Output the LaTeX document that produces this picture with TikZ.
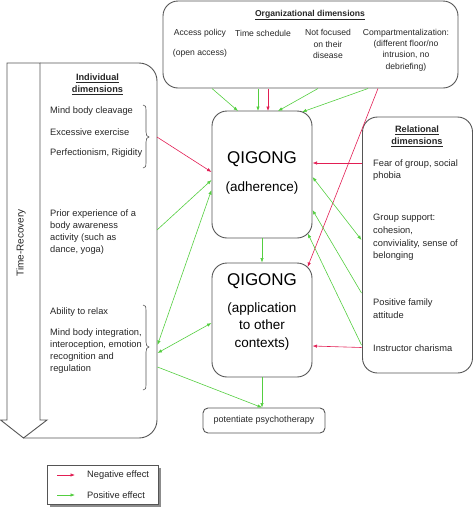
\documentclass[tikz,border=0pt]{standalone}
\usepackage{fontspec}
\setmainfont{Liberation Sans}
\usetikzlibrary{arrows.meta}
\definecolor{negc}{RGB}{226,30,84}
\definecolor{posc}{RGB}{84,206,64}
\definecolor{boxc}{RGB}{85,85,85}
\begin{document}
\begin{tikzpicture}[x=1pt,y=-1pt,
  box/.style={draw=boxc, line width=0.9pt, inner sep=0pt, rounded corners=15pt},
  txt/.style={inner sep=0pt, font=\fontsize{9.3}{12}\selectfont, align=left, text=black!85},
  rtxt/.style={txt, font=\fontsize{9.3}{12.8}\selectfont},
  otxt/.style={inner sep=0pt, font=\fontsize{8.6}{11.3}\selectfont, align=center, text=black!85},
  ttl/.style={inner sep=0pt, font=\fontsize{9.2}{12}\selectfont\bfseries, align=center, text=black!85},
  smalltip/.tip={Latex[length=4.5pt,width=3.4pt]},
  negarr/.style={draw=negc, line width=0.6pt, -smalltip},
  posarr/.style={draw=posc, line width=0.6pt, -smalltip},
  posboth/.style={draw=posc, line width=0.6pt, smalltip-smalltip},
]
\useasboundingbox (0,0) rectangle (474,507);

% ---------- organizational box ----------
\node[box, minimum width=295pt, minimum height=87pt] (org) at (310.5,44.5) {};
\node[ttl, font=\fontsize{8.6}{11}\selectfont\bfseries] (orgt) at (310,15) {\underline{Organizational dimensions}};
\node[otxt] (acc) at (200,33) {Access policy};
\node[otxt] (opn) at (200,53) {(open access)};
\node[otxt] (tim) at (263,33) {Time schedule};
\node[otxt] (nfo) at (328,44) {Not focused\\on their\\disease};
\node[otxt] (cmp) at (406,50) {Compartmentalization:\\(different floor/no\\intrusion, no\\debriefing)};

% ---------- individual box + time arrow ----------
\draw[boxc, line width=0.9pt, rounded corners=18pt] (40,63) -- (157,63) -- (157,438) -- (23.5,438);
\draw[boxc, line width=0.9pt, fill=white] (7,63) -- (40,63) -- (40,420) -- (47,420) -- (23.5,438) -- (0.6,420) -- (7,420) -- cycle;
\node[rotate=90, inner sep=0pt, font=\fontsize{10}{12}\selectfont, text=black!85] (trec) at (21,243) {Time-Recovery};

\node[ttl] (indt) at (97.5,84) {\underline{Individual}\\\underline{dimensions}};
\node[txt, anchor=west] (mbc) at (50,111) {Mind body cleavage};
\node[txt, anchor=west] (exe) at (50,132) {Excessive exercise};
\node[txt, anchor=west] (per) at (50,153) {Perfectionism, Rigidity};
\node[txt, anchor=west] (pri) at (50,232) {Prior experience of a\\body awareness\\activity (such as\\dance, yoga)};
\node[txt, anchor=west] (abl) at (50,312) {Ability to relax};
\node[txt, anchor=west] (mbi) at (50,351.5) {Mind body integration,\\interoception, emotion\\recognition and\\regulation};

\draw[boxc, line width=0.6pt] (143,105) .. controls (146,105) and (146,107) .. (146,110) -- (146,132)
  .. controls (146,135) and (147,137) .. (149,137) .. controls (147,137) and (146,139) .. (146,142) -- (146,163)
  .. controls (146,166) and (146,168) .. (143,168);
\draw[boxc, line width=0.6pt] (143,305) .. controls (146,305) and (146,307) .. (146,310) -- (146,342)
  .. controls (146,345) and (147,347) .. (149,347) .. controls (147,347) and (146,349) .. (146,352) -- (146,385)
  .. controls (146,388) and (146,390) .. (143,390);

% ---------- QIGONG boxes ----------
\node[box, minimum width=100pt, minimum height=127pt] (adh) at (262,174.5) {};
\node[inner sep=0pt, font=\fontsize{17}{20}\selectfont] (adh1) at (262,159) {QIGONG};
\node[inner sep=0pt, font=\fontsize{13.5}{16}\selectfont] (adh2) at (262,188) {(adherence)};

\node[box, minimum width=100pt, minimum height=114pt] (app) at (262,320) {};
\node[inner sep=0pt, font=\fontsize{17}{20}\selectfont] (app1) at (262,281) {QIGONG};
\node[inner sep=0pt, font=\fontsize{13.5}{17.5}\selectfont, align=center] (app2) at (262,326.5) {(application\\to other\\contexts)};

\node[box, rounded corners=5pt, minimum width=122pt, minimum height=25pt] (pot) at (264,420.5) {};
\node[inner sep=0pt, font=\fontsize{9}{11}\selectfont, text=black!85] (pott) at (264,420) {potentiate psychotherapy};

% ---------- relational box ----------
\node[box, minimum width=110pt, minimum height=256pt] (rel) at (417.5,245) {};
\node[ttl] (relt) at (417,136) {\underline{Relational}\\\underline{dimensions}};
\node[rtxt, anchor=west] (fear) at (373,170) {Fear of group, social\\phobia};
\node[rtxt, anchor=west] (grp) at (373,237.5) {Group support:\\cohesion,\\conviviality, sense of\\belonging};
\node[rtxt, anchor=west] (fam) at (373,308.5) {Positive family\\attitude};
\node[rtxt, anchor=west] (ins) at (373,348) {Instructor charisma};

% ---------- legend ----------
\fill[black!45] (50,468) rectangle (160.5,506.5);
\node[draw=boxc, line width=0.8pt, fill=white, inner sep=0pt, minimum width=111pt, minimum height=39pt] (leg) at (102.5,484.5) {};
\coordinate (ln1) at (57,475);
\coordinate (ln2) at (75,475);
\coordinate (lp1) at (57,495);
\coordinate (lp2) at (75,495);
\draw[negarr] (ln1) -- (ln2);
\draw[posarr] (lp1) -- (lp2);
\node[txt, anchor=west] (legn) at (87,475) {Negative effect};
\node[txt, anchor=west] (legp) at (87,495) {Positive effect};

% ---------- connector end points ----------
\coordinate (o1) at (212,88.5);
\coordinate (o2) at (258,88.5);
\coordinate (o3) at (268,88.5);
\coordinate (o4) at (318,88.5);
\coordinate (o5) at (368,88.5);
\coordinate (o6) at (378,88.5);
\coordinate (a1) at (238,111);
\coordinate (a2) at (258,111);
\coordinate (a3) at (268,111);
\coordinate (a4) at (278,111);
\coordinate (a5) at (302,112);
\coordinate (a6) at (211.5,172);
\coordinate (a7) at (211.5,180);
\coordinate (a8) at (211.5,190);
\coordinate (a9) at (312.5,163);
\coordinate (a10) at (312.5,177);
\coordinate (a11) at (312.5,210);
\coordinate (a12) at (307.8,233.5);
\coordinate (p1) at (307.6,267);
\coordinate (p2) at (211.5,323);
\coordinate (p3) at (312.5,346);
\coordinate (i1) at (157,137);
\coordinate (i2) at (157,230);
\coordinate (i3) at (157.5,345);
\coordinate (i4) at (157.5,353);
\coordinate (i5) at (157.5,367);
\coordinate (r1) at (361.5,163);
\coordinate (r2) at (361.5,240);
\coordinate (r3) at (361.5,293);
\coordinate (r4) at (361.5,345);
\coordinate (r5) at (361.5,347.5);

% ---------- connectors ----------
\draw[posarr] (o1) -- (a1);
\draw[posarr] (o2) -- (a2);
\draw[negarr] (o3) -- (a3);
\draw[posarr] (o4) -- (a4);
\draw[posarr] (o5) -- (a5);
\draw[negarr] (o6) -- (p1);

\draw[negarr] (i1) -- (a6);
\draw[posarr] (i2) -- (a7);
\draw[posboth] (i3) -- (a8);
\draw[posboth] (i4) -- (p2);
\draw[posarr] (i5) -- (pot.north -| app.south);

\draw[posarr] (adh.south) -- (app.north);
\draw[posarr] (app.south) -- (app.south |- pot.north);

\draw[negarr] (r1) -- (a9);
\draw[posboth] (a10) -- (r2);
\draw[posarr] (r3) -- (a11);
\draw[posarr] (r4) -- (a12);
\draw[negarr] (r5) -- (p3);
\end{tikzpicture}
\end{document}
